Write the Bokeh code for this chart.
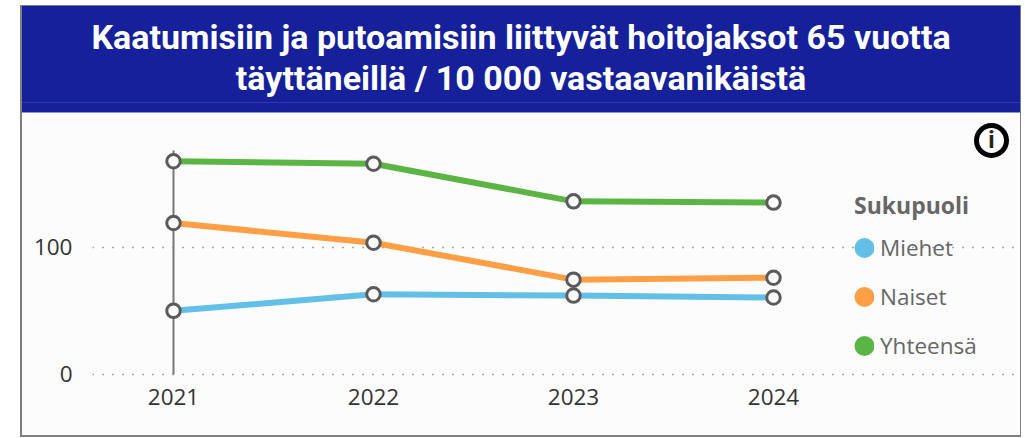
from bokeh.embed import file_html
from bokeh.resources import INLINE
from bokeh.plotting import figure
from bokeh.layouts import column
from bokeh.models import (Div, Legend, LegendItem, Range1d, FixedTicker, ColumnDataSource)

years = [2021, 2022, 2023, 2024]
miehet = [50, 63, 62, 60.5]
naiset = [119, 103.5, 74.5, 76]
yhteensa = [167.5, 165.5, 136, 135]
series = [("Miehet", miehet, "#62C0E8"), ("Naiset", naiset, "#FF9F45"), ("Yhteensä", yhteensa, "#5BB545")]
title_lines = ["Kaatumisiin ja putoamisiin liittyvät hoitojaksot 65 vuotta",
               "täyttäneillä / 10 000 vastaavanikäistä"]
legend_title = "Sukupuoli"
hover_year = 2021
hover_top = 176
grid_span = (2020.595, 2024.37)

p = figure(width=998, height=322,
           output_backend="svg", toolbar_location=None,
           x_range=Range1d(2020.595, 2025.235), y_range=Range1d(-7.86, 205),
           min_border_left=70, min_border_right=0, min_border_top=0, min_border_bottom=51,
           background_fill_color="#FCFCFC", border_fill_color="#FCFCFC", outline_line_color=None)
p.margin = 0

p.xaxis.ticker = FixedTicker(ticks=years)
p.yaxis.ticker = FixedTicker(ticks=[0, 100])
for ax in (p.xaxis[0], p.yaxis[0]):
    ax.axis_line_color = None
    ax.major_tick_line_color = None
    ax.minor_tick_line_color = None
    ax.major_tick_out = 0
    ax.major_label_text_font = "Open Sans"
    ax.major_label_text_font_size = "22.5px"
    ax.major_label_text_color = "#333333"
p.xaxis.major_label_standoff = 4
p.yaxis.major_label_standoff = 20
p.xgrid.grid_line_color = None
p.ygrid.grid_line_color = "#555555"
p.ygrid.grid_line_dash = "1 9"
p.ygrid.grid_line_width = 1.3
p.ygrid.bounds = grid_span

p.segment([hover_year], [0], [hover_year], [hover_top], line_color="#777777", line_width=2)

items = []
for name, vals, col in series:
    src = ColumnDataSource(dict(x=years, y=vals))
    p.line("x", "y", source=src, line_color=col, line_width=6)
    r = p.scatter("x", "y", source=src, size=8, fill_color=col, line_color=col, line_width=12, visible=False)
    items.append(LegendItem(label=name, renderers=[r]))
for name, vals, col in series:
    p.scatter(years, vals, size=13.5, fill_color="#FCFCFC", line_color="#5A5A5A", line_width=3)

legend = Legend(items=items, title=legend_title, location=(762, 14),
                orientation="vertical", glyph_width=20, glyph_height=49, label_standoff=6,
                spacing=0, margin=0, padding=0, background_fill_alpha=0, border_line_color=None,
                title_text_font="Open Sans", title_text_font_style="bold", title_text_font_size="23px",
                title_text_color="#666666", title_standoff=2,
                label_text_font="Open Sans", label_text_font_size="22.5px", label_text_color="#666666")
p.add_layout(legend)

header = Div(text="<br>".join(title_lines), width=998, height=107, margin=0,
             styles={"background": "linear-gradient(#15209A 96px,#2E38A6 96px,#2E38A6 97px,#15209A 97px,#15209A 106px,#8A91D0 106px)",
                     "color": "#FFFFFF", "font-family": "Roboto", "font-weight": "bold", "font-size": "34px",
                     "line-height": "41px", "text-align": "center", "padding-top": "11px", "box-sizing": "border-box"})
icon = Div(text="i", width=35, height=35, margin=(-312, 0, 0, 952),
           styles={"border": "5px solid #000000", "border-radius": "50%", "box-sizing": "border-box",
                   "color": "#222222", "font-family": "Roboto", "font-weight": "bold", "font-size": "24px",
                   "line-height": "25px", "text-align": "center"})
page = column(header, p, icon, margin=(5, 0, 0, 20), width=1001, height=432,
              styles={"border-left": "2px solid #7F7F7F", "border-right": "1px solid #7F7F7F",
                      "border-top": "1px solid #7F7F7F", "border-bottom": "2px solid #7F7F7F",
                      "box-sizing": "border-box", "background": "#FCFCFC"})

open("out.html", "w").write(file_html(page, INLINE))
